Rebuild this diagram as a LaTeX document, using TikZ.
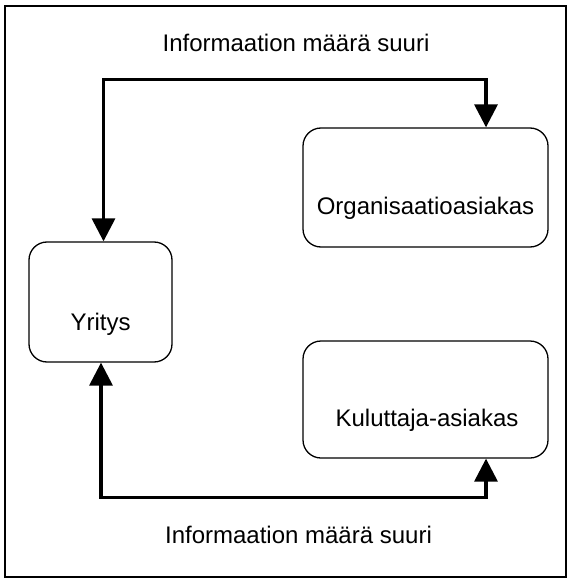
\documentclass[tikz,border=0pt]{standalone}
\usepackage{fontspec}
\setmainfont{Liberation Sans}
\usetikzlibrary{arrows.meta}
\begin{document}
\begin{tikzpicture}[x=1pt, y=-1pt,
  every node/.style={font=\fontsize{24}{28}\selectfont, inner sep=0pt},
  block/.style={draw, line width=1.3pt, rounded corners=18pt},
  flow/.style={line width=3.3pt,
    {Triangle[length=23pt,width=23pt]}-{Triangle[length=23pt,width=23pt]}},
  frame/.style={draw, line width=2.4pt},
  caption/.style={anchor=base}
]
  % page and outer frame
  \fill[white] (0,0) rectangle (569,580);
  \useasboundingbox (0,0) rectangle (569,580);
  \draw[frame] (5,6) rectangle (566,577);

  % the three parties
  \node[block, minimum width=143pt, minimum height=120pt,
        label={[anchor=base, yshift=-22pt]center:Yritys}] (yr) at (100.5,302) {};
  \node[block, minimum width=245pt, minimum height=119pt,
        label={[anchor=base, yshift=-20.5pt]center:Organisaatioasiakas}] (org) at (425.5,187.5) {};
  \node[block, minimum width=245pt, minimum height=117pt,
        label={[anchor=base, yshift=-20.5pt, xshift=1.5pt]center:Kuluttaja-asiakas}] (kul) at (425.5,399.5) {};

  % information flows
  \draw[flow] ([xshift=3pt]yr.north) -- ++(0,-162) -| ([xshift=60.5pt]org.north);
  \draw[flow] ([xshift=0.5pt]yr.south) -- ++(0,135) -| ([xshift=60.5pt]kul.south);

  % flow captions
  \node[caption] (toptext) at (296,52) {Informaation määrä suuri};
  \node[caption] (bottext) at (298.5,543) {Informaation määrä suuri};
\end{tikzpicture}
\end{document}
